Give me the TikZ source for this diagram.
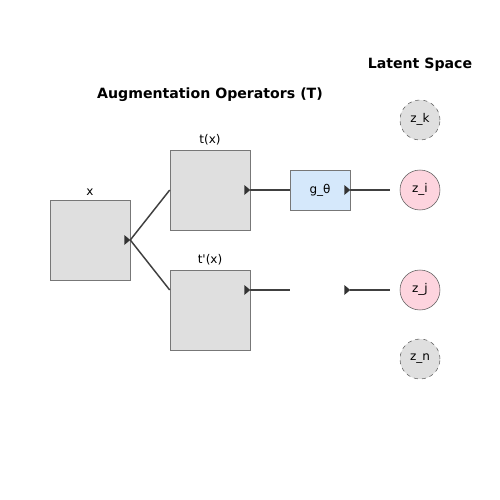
\documentclass[tikz,border=0pt]{standalone}
\usepackage{fontspec}
\setmainfont{DejaVu Sans}
\usetikzlibrary{positioning}
\begin{document}
\begin{tikzpicture}[x=0.75pt, y=-0.75pt]
                \definecolor{pinkz}{HTML}{FDD4DE}
                \definecolor{bluez}{HTML}{D5E8FB}
                \definecolor{grayz}{HTML}{DFDFDF}
                \definecolor{edgez}{HTML}{777777}
                \tikzset{Frame/.style={draw=edgez, fill=grayz, minimum width=60pt, minimum height=60pt, inner sep=0pt},
                         Proj/.style={draw=edgez, fill=bluez, minimum width=45pt, minimum height=30pt, inner sep=0pt, font=\small},
                         Emb/.style={circle, draw=black!65, minimum size=30pt, inner sep=0pt, font=\small},
                         Caption/.style={font=\small},
                         Heading/.style={font=\fontsize{10.6}{12}\selectfont\bfseries},
                         Wire/.style={draw=black!75, line width=1.1pt},
                         Head/.style={fill=black!80}}
                \path[use as bounding box, fill=white] (0,0) rectangle (500,500);
                \node[Heading] (latent) at (420,65) {Latent Space};
                \node[Heading] (augment) at (210,95) {Augmentation Operators (T)};
                \node[Frame] (X) at (90,240) {};
                \node[Frame] (T1) at (210,190) {};
                \node[Frame] (T2) at (210,310) {};
                \node[Caption, above=0pt of X] (Xl) {x};
                \node[Caption, above=0pt of T1] (T1l) {t(x)};
                \node[Caption, above=0pt of T2] (T2l) {t\textquotesingle(x)};
                \node[Proj] (G) at (320,190) {g\_θ};
                \coordinate (G2) at (320,290);
                \node[Emb, dashed, fill=grayz] (Zk) at (420,120) {\raisebox{3pt}{z\_k}};
                \node[Emb, fill=pinkz] (Zi) at (420,190) {\raisebox{3pt}{z\_i}};
                \node[Emb, fill=pinkz] (Zj) at (420,290) {\raisebox{3pt}{z\_j}};
                \node[Emb, dashed, fill=grayz] (Zn) at (420,359) {\raisebox{3pt}{z\_n}};
                \coordinate (Ei) at (390,190);
                \coordinate (Ej) at (390,290);
                \draw[Wire] (X.east) -- (T1.west);
                \draw[Wire] (X.east) -- (T2.west |- G2);
                \draw[Wire] (T1.east) -- (G.west);
                \draw[Wire] (G.east) -- (Ei);
                \draw[Wire] (T2.east |- G2) -- (G2 -| G.west);
                \draw[Wire] (G2 -| G.east) -- (Ej);
                \foreach \p in {X.east, T1.east, G.east, T2.east |- G2, G2 -| G.east}
                    \fill[Head] (\p) -- ++(-6,-5) -- ++(0,10) -- cycle;
            \end{tikzpicture}
\end{document}
